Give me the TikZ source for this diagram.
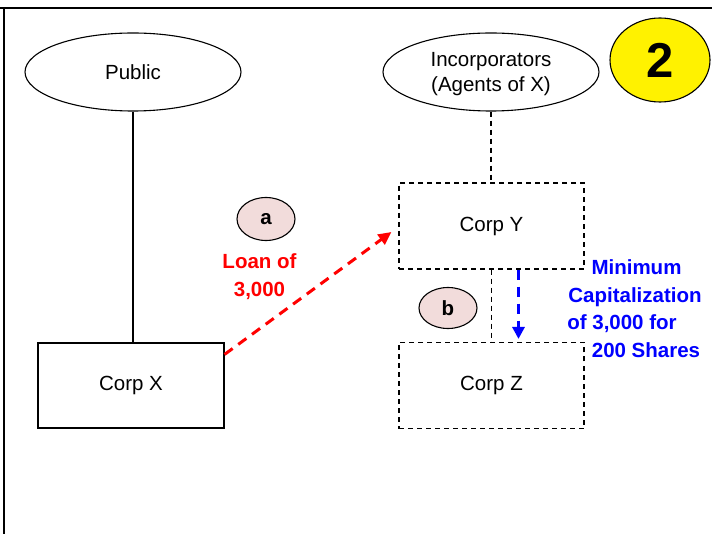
\documentclass[tikz,border=0pt]{standalone}
\usepackage{fontspec}
\setmainfont{Liberation Sans}
\usetikzlibrary{shapes.geometric,arrows.meta,calc}
\definecolor{pinkfill}{HTML}{F2DCDB}
\definecolor{blueline}{HTML}{0000FF}
\definecolor{redline}{HTML}{FF0000}
\begin{document}
\begin{tikzpicture}[x=1pt,y=-1pt,
  txt/.style={font=\fontsize{20.5}{25}\selectfont},
  btxt/.style={font=\bfseries\fontsize{20.5}{28}\selectfont},
  oval/.style={ellipse,draw,line width=1.1pt,minimum width=216pt,minimum height=78pt,inner sep=0pt,align=center,txt},
  solidbox/.style={rectangle,draw,line width=1.1pt,minimum width=186pt,minimum height=85pt,inner sep=0pt,txt},
  dashbox/.style={rectangle,draw,line width=1.1pt,dash pattern=on 5pt off 4pt,minimum width=185pt,minimum height=86pt,inner sep=0pt,txt},
  tag/.style={ellipse,draw,line width=1.1pt,fill=pinkfill,minimum width=58pt,minimum height=43pt,inner sep=0pt,btxt},
  link/.style={line width=1.1pt},
  dlink/.style={line width=1.1pt,dash pattern=on 5pt off 4pt},
  redarrow/.style={line width=3pt,draw=redline,dash pattern=on 10pt off 7pt,-{Triangle[length=13pt,width=12pt,fill=redline]}},
  bluearrow/.style={line width=3pt,draw=blueline,dash pattern=on 10pt off 7pt,-{Triangle[length=12pt,width=12pt,fill=blueline]}},
  redtxt/.style={btxt,text=redline,align=center,inner sep=0pt},
  bluetxt/.style={btxt,text=blueline,inner sep=0pt,anchor=base}
]
\useasboundingbox (0,0) rectangle (712,534);
% frame
\draw[line width=2.5pt] (0,8) -- (712,8);
\draw[line width=2pt] (4,8) -- (4,534);

% nodes
\node[oval] (pub) at (133,72) {Public};
\node[oval] (inc) at (491,72) {\rule{0pt}{19pt}Incorporators\\(Agents of X)};
\node[ellipse,draw,line width=1.1pt,fill=yellow,minimum width=100pt,minimum height=84pt,inner sep=0pt,font=\bfseries\fontsize{49}{49}\selectfont] (two) at (660,60) {2};

\node[solidbox] (cx) at (131,385.5) {Corp X};
\node[dashbox] (cy) at (491.5,226) {Corp Y};
\node[dashbox] (cz) at (491.5,385.5) {Corp Z};

\node[tag] (ta) at (266,219) {a};
\node[tag,minimum height=41pt] (tb) at (448,308) {b};

\node[redtxt] (loan) at (259.5,277) {Loan of\\3,000};

\node[bluetxt] (m1) at (636.5,275) {Minimum};
\node[bluetxt] (m2) at (635,302.5) {Capitalization};
\node[bluetxt] (m3) at (622,330) {of 3,000 for};
\node[bluetxt] (m4) at (646,357.5) {200 Shares};

% connectors
\draw[link] (pub.south) -- (pub.south |- cx.north);
\draw[dlink] (inc.south) -- (inc.south |- cy.north);
\draw[dlink] (cy.south) -- (cz.north);
\coordinate (rs) at ($(cx.north east)+(0,12)$);
\coordinate (re) at ($(cy.west)+(-7,6)$);
\draw[redarrow] (rs) -- (re);
\coordinate (bs) at ($(cy.south)+(27,0)$);
\coordinate (be) at ($(cz.north)+(27,-3)$);
\draw[bluearrow] (bs) -- (be);
\end{tikzpicture}
\end{document}
